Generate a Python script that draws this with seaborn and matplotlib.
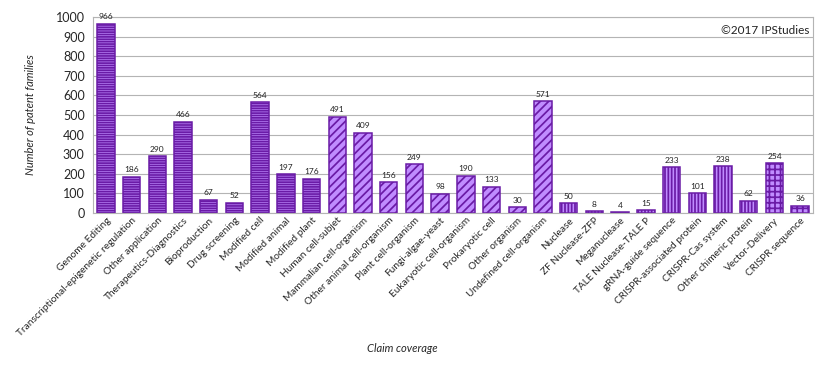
import matplotlib
matplotlib.use("Agg")
import matplotlib.pyplot as plt
import pandas as pd
import seaborn as sns


categories = [
    "Genome Editing",
    "Transcriptional-epigenetic regulation",
    "Other application",
    "Therapeutics-Diagnostics",
    "Bioproduction",
    "Drug screening",
    "Modified cell",
    "Modified animal",
    "Modified plant",
    "Human cell-subjet",
    "Mammalian cell-organism",
    "Other animal cell-organism",
    "Plant cell-organism",
    "Fungi-algae-yeast",
    "Eukaryotic cell-organism",
    "Prokaryotic cell",
    "Other organism",
    "Undefined cell-organism",
    "Nuclease",
    "ZF Nuclease-ZFP",
    "Meganuclease",
    "TALE Nuclease-TALE P",
    "gRNA-guide sequence",
    "CRISPR-associated protein",
    "CRISPR-Cas system",
    "Other chimeric protein",
    "Vector-Delivery",
    "CRISPR sequence",
]
values = [966, 186, 290, 466, 67, 52, 564, 197, 176,
          491, 409, 156, 249, 98, 190, 133, 30, 571,
          50, 8, 4, 15, 233, 101, 238, 62,
          254, 36]
# group of each bar -> hatch pattern
groups = ["application"] * 9 + ["organism"] * 9 + ["tool"] * 8 + ["delivery"] * 2

hatch_for = {"application": "-------", "organism": "////", "tool": "|||||", "delivery": "+++"}

fill = "#C08CFF"
edge = "#6A1BA6"

sns.set_style("white")
plt.rcParams["font.family"] = ["Lato", "DejaVu Sans"]
plt.rcParams["hatch.linewidth"] = 1.25
plt.rcParams["hatch.color"] = edge

df = pd.DataFrame({"claim": categories, "count": values})

fig = plt.figure(figsize=(8.26, 3.76), dpi=100)
ax = fig.add_axes([0.1126, 0.4335, 0.8717, 0.5213])

sns.barplot(data=df, x="claim", y="count", color=fill, edgecolor=edge,
            linewidth=1.1, width=0.68, saturation=1, ax=ax)

for patch, g in zip(ax.patches, groups):
    patch.set_hatch(hatch_for[g])
    patch.set_facecolor(fill)
    patch.set_edgecolor(edge)

for i, v in enumerate(values):
    ax.text(i, v + 18, str(v), ha="center", va="bottom", fontsize=6, color="#222222")

ax.set_ylim(0, 1000)
ax.set_xlim(-0.5, len(categories) - 0.5)
ax.set_yticks(range(0, 1001, 100))
ax.tick_params(axis="y", labelsize=9, length=0, pad=6)
ax.tick_params(axis="x", labelsize=7.3, length=0, pad=2)
ax.set_xticks(range(len(categories)))
ax.set_xticklabels(categories, rotation=45, ha="right", rotation_mode="anchor")
ax.yaxis.grid(True, color="#B4B4B4", linewidth=0.8)
ax.set_axisbelow(True)
for s in ax.spines.values():
    s.set_color("#B4B4B4")
    s.set_linewidth(0.8)

ax.set_ylabel("Number of patent families", fontsize=8, style="italic", labelpad=14)
ax.set_xlabel("")
fig.text(0.487, 0.065, "Claim coverage", fontsize=8, style="italic", ha="center")

ax.text(0.995, 0.96, "©2017 IPStudies", transform=ax.transAxes, ha="right", va="top",
        fontsize=8.5, color="#222222")

fig.savefig("out.png", dpi=100)
